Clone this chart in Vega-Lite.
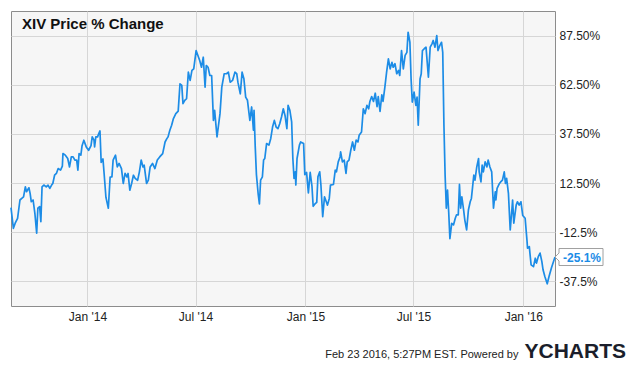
{
  "$schema": "https://vega.github.io/schema/vega-lite/v6.json",
  "width": 544,
  "height": 295,
  "autosize": {"type": "none"},
  "padding": {"left": 11, "top": 11, "right": 80, "bottom": 60},
  "background": "white",
  "title": {"text": "XIV Price % Change", "anchor": "start", "frame": "group", "dx": 11, "offset": -33, "baseline": "alphabetic", "fontSize": 15, "fontWeight": "bold", "color": "#111111", "font": "Liberation Sans"},
  "config": {
    "font": "Liberation Sans",
    "view": {"stroke": "#8c8c8c", "strokeWidth": 1, "fill": "#f6f6f6"},
    "axis": {"gridColor": "#d6d6d6", "gridWidth": 1, "ticks": false, "domain": false, "labelFont": "Liberation Sans", "labelFontSize": 12, "labelColor": "#222222", "titleFont": "Liberation Sans"}
  },
  "data": {"values": [
    {"date": "2013-08-26", "value": 0},
    {"date": "2013-08-30", "value": -10.5},
    {"date": "2013-09-02", "value": -7.9},
    {"date": "2013-09-06", "value": -5.4},
    {"date": "2013-09-10", "value": 3.9},
    {"date": "2013-09-13", "value": 4.7},
    {"date": "2013-09-16", "value": 5.5},
    {"date": "2013-09-19", "value": 10.6},
    {"date": "2013-09-21", "value": 8.1},
    {"date": "2013-09-25", "value": 10.1},
    {"date": "2013-09-27", "value": 7.3},
    {"date": "2013-09-29", "value": 3.0},
    {"date": "2013-10-02", "value": 3.9},
    {"date": "2013-10-05", "value": -2.9},
    {"date": "2013-10-08", "value": -13.0},
    {"date": "2013-10-10", "value": -0.3},
    {"date": "2013-10-13", "value": 0.5},
    {"date": "2013-10-15", "value": -7.1},
    {"date": "2013-10-17", "value": 10.6},
    {"date": "2013-10-20", "value": 11.5},
    {"date": "2013-10-24", "value": 10.6},
    {"date": "2013-10-27", "value": 11.5},
    {"date": "2013-10-30", "value": 9.8},
    {"date": "2013-11-02", "value": 11.5},
    {"date": "2013-11-04", "value": 12.3},
    {"date": "2013-11-07", "value": 16.5},
    {"date": "2013-11-10", "value": 17.4},
    {"date": "2013-11-13", "value": 19.9},
    {"date": "2013-11-17", "value": 19.1},
    {"date": "2013-11-20", "value": 21.1},
    {"date": "2013-11-21", "value": 27.5},
    {"date": "2013-11-25", "value": 26.7},
    {"date": "2013-11-29", "value": 25.0},
    {"date": "2013-12-02", "value": 20.7},
    {"date": "2013-12-05", "value": 25.8},
    {"date": "2013-12-08", "value": 25.8},
    {"date": "2013-12-11", "value": 24.2},
    {"date": "2013-12-14", "value": 24.2},
    {"date": "2013-12-16", "value": 19.1},
    {"date": "2013-12-18", "value": 27.5},
    {"date": "2013-12-21", "value": 26.7},
    {"date": "2013-12-23", "value": 31.5},
    {"date": "2013-12-26", "value": 34.3},
    {"date": "2013-12-30", "value": 30.9},
    {"date": "2014-01-03", "value": 29.2},
    {"date": "2014-01-07", "value": 31.5},
    {"date": "2014-01-09", "value": 36.0},
    {"date": "2014-01-12", "value": 34.3},
    {"date": "2014-01-13", "value": 30.9},
    {"date": "2014-01-15", "value": 36.0},
    {"date": "2014-01-18", "value": 36.0},
    {"date": "2014-01-20", "value": 37.7},
    {"date": "2014-01-22", "value": 39.0},
    {"date": "2014-01-24", "value": 23.0},
    {"date": "2014-01-27", "value": 24.8},
    {"date": "2014-01-29", "value": 17.1},
    {"date": "2014-02-01", "value": 5.2},
    {"date": "2014-02-05", "value": -0.3},
    {"date": "2014-02-08", "value": 15.6},
    {"date": "2014-02-11", "value": 15.6},
    {"date": "2014-02-13", "value": 24.2},
    {"date": "2014-02-17", "value": 26.7},
    {"date": "2014-02-20", "value": 20.7},
    {"date": "2014-02-23", "value": 22.5},
    {"date": "2014-02-27", "value": 19.9},
    {"date": "2014-03-02", "value": 12.3},
    {"date": "2014-03-05", "value": 17.4},
    {"date": "2014-03-08", "value": 15.6},
    {"date": "2014-03-10", "value": 17.4},
    {"date": "2014-03-13", "value": 8.9},
    {"date": "2014-03-16", "value": 12.3},
    {"date": "2014-03-19", "value": 16.5},
    {"date": "2014-03-22", "value": 14.9},
    {"date": "2014-03-26", "value": 13.9},
    {"date": "2014-03-29", "value": 18.2},
    {"date": "2014-04-01", "value": 24.2},
    {"date": "2014-04-04", "value": 20.7},
    {"date": "2014-04-06", "value": 21.6},
    {"date": "2014-04-10", "value": 12.3},
    {"date": "2014-04-13", "value": 14.0},
    {"date": "2014-04-16", "value": 20.7},
    {"date": "2014-04-20", "value": 22.5},
    {"date": "2014-04-24", "value": 19.9},
    {"date": "2014-04-28", "value": 24.2},
    {"date": "2014-05-02", "value": 25.8},
    {"date": "2014-05-07", "value": 27.5},
    {"date": "2014-05-11", "value": 33.4},
    {"date": "2014-05-14", "value": 35.1},
    {"date": "2014-05-16", "value": 36.0},
    {"date": "2014-05-19", "value": 39.4},
    {"date": "2014-05-22", "value": 41.9},
    {"date": "2014-05-25", "value": 45.3},
    {"date": "2014-05-29", "value": 47.8},
    {"date": "2014-06-02", "value": 49.1},
    {"date": "2014-06-05", "value": 63.0},
    {"date": "2014-06-08", "value": 62.2},
    {"date": "2014-06-10", "value": 52.9},
    {"date": "2014-06-13", "value": 54.6},
    {"date": "2014-06-16", "value": 55.4},
    {"date": "2014-06-19", "value": 68.9},
    {"date": "2014-06-22", "value": 64.7},
    {"date": "2014-06-25", "value": 69.8},
    {"date": "2014-06-28", "value": 70.6},
    {"date": "2014-07-02", "value": 79.9},
    {"date": "2014-07-05", "value": 77.4},
    {"date": "2014-07-08", "value": 74.8},
    {"date": "2014-07-11", "value": 71.4},
    {"date": "2014-07-14", "value": 76.5},
    {"date": "2014-07-17", "value": 61.3},
    {"date": "2014-07-19", "value": 72.3},
    {"date": "2014-07-22", "value": 71.4},
    {"date": "2014-07-25", "value": 67.2},
    {"date": "2014-07-28", "value": 67.2},
    {"date": "2014-07-31", "value": 44.4},
    {"date": "2014-08-02", "value": 49.5},
    {"date": "2014-08-06", "value": 36.0},
    {"date": "2014-08-11", "value": 47.8},
    {"date": "2014-08-14", "value": 61.3},
    {"date": "2014-08-18", "value": 68.1},
    {"date": "2014-08-22", "value": 68.1},
    {"date": "2014-08-25", "value": 68.9},
    {"date": "2014-08-28", "value": 63.8},
    {"date": "2014-09-01", "value": 64.7},
    {"date": "2014-09-05", "value": 68.9},
    {"date": "2014-09-08", "value": 68.1},
    {"date": "2014-09-10", "value": 63.8},
    {"date": "2014-09-14", "value": 57.9},
    {"date": "2014-09-17", "value": 68.9},
    {"date": "2014-09-20", "value": 65.6},
    {"date": "2014-09-23", "value": 56.2},
    {"date": "2014-09-26", "value": 54.6},
    {"date": "2014-09-28", "value": 49.5},
    {"date": "2014-09-30", "value": 44.4},
    {"date": "2014-10-03", "value": 51.2},
    {"date": "2014-10-06", "value": 39.4},
    {"date": "2014-10-07", "value": 49.5},
    {"date": "2014-10-09", "value": 30.9},
    {"date": "2014-10-11", "value": 16.8},
    {"date": "2014-10-14", "value": 6.7},
    {"date": "2014-10-16", "value": 1.9},
    {"date": "2014-10-18", "value": 14.0},
    {"date": "2014-10-21", "value": 15.7},
    {"date": "2014-10-23", "value": 24.2},
    {"date": "2014-10-25", "value": 25.0},
    {"date": "2014-10-28", "value": 32.6},
    {"date": "2014-11-01", "value": 31.8},
    {"date": "2014-11-04", "value": 35.2},
    {"date": "2014-11-07", "value": 41.0},
    {"date": "2014-11-10", "value": 44.4},
    {"date": "2014-11-13", "value": 41.0},
    {"date": "2014-11-16", "value": 40.2},
    {"date": "2014-11-19", "value": 42.7},
    {"date": "2014-11-22", "value": 46.1},
    {"date": "2014-11-25", "value": 50.3},
    {"date": "2014-11-28", "value": 46.7},
    {"date": "2014-12-01", "value": 40.2},
    {"date": "2014-12-03", "value": 52.0},
    {"date": "2014-12-06", "value": 49.5},
    {"date": "2014-12-09", "value": 43.6},
    {"date": "2014-12-11", "value": 25.0},
    {"date": "2014-12-13", "value": 14.9},
    {"date": "2014-12-15", "value": 18.2},
    {"date": "2014-12-16", "value": 11.5},
    {"date": "2014-12-18", "value": 25.0},
    {"date": "2014-12-22", "value": 31.8},
    {"date": "2014-12-24", "value": 33.4},
    {"date": "2014-12-29", "value": 32.6},
    {"date": "2014-12-31", "value": 16.8},
    {"date": "2015-01-03", "value": 17.9},
    {"date": "2015-01-06", "value": 7.5},
    {"date": "2015-01-09", "value": 17.9},
    {"date": "2015-01-12", "value": 10.9},
    {"date": "2015-01-14", "value": 0.7},
    {"date": "2015-01-17", "value": 1.9},
    {"date": "2015-01-20", "value": 2.7},
    {"date": "2015-01-22", "value": 15.7},
    {"date": "2015-01-25", "value": 18.2},
    {"date": "2015-01-27", "value": 11.5},
    {"date": "2015-01-30", "value": -4.6},
    {"date": "2015-02-02", "value": 5.5},
    {"date": "2015-02-05", "value": 3.0},
    {"date": "2015-02-07", "value": 1.3},
    {"date": "2015-02-10", "value": 4.7},
    {"date": "2015-02-12", "value": 11.5},
    {"date": "2015-02-17", "value": 11.8},
    {"date": "2015-02-20", "value": 19.1},
    {"date": "2015-02-22", "value": 18.2},
    {"date": "2015-02-25", "value": 23.3},
    {"date": "2015-02-28", "value": 25.8},
    {"date": "2015-03-01", "value": 28.4},
    {"date": "2015-03-04", "value": 23.3},
    {"date": "2015-03-07", "value": 24.2},
    {"date": "2015-03-10", "value": 17.4},
    {"date": "2015-03-12", "value": 23.3},
    {"date": "2015-03-15", "value": 24.2},
    {"date": "2015-03-18", "value": 29.2},
    {"date": "2015-03-21", "value": 33.4},
    {"date": "2015-03-24", "value": 29.2},
    {"date": "2015-03-27", "value": 34.3},
    {"date": "2015-03-30", "value": 33.4},
    {"date": "2015-04-01", "value": 36.8},
    {"date": "2015-04-05", "value": 38.5},
    {"date": "2015-04-08", "value": 50.3},
    {"date": "2015-04-11", "value": 47.8},
    {"date": "2015-04-14", "value": 52.0},
    {"date": "2015-04-17", "value": 50.3},
    {"date": "2015-04-19", "value": 54.0},
    {"date": "2015-04-22", "value": 56.5},
    {"date": "2015-04-25", "value": 54.0},
    {"date": "2015-04-28", "value": 58.2},
    {"date": "2015-05-01", "value": 51.4},
    {"date": "2015-05-03", "value": 56.5},
    {"date": "2015-05-06", "value": 48.9},
    {"date": "2015-05-09", "value": 57.4},
    {"date": "2015-05-11", "value": 54.0},
    {"date": "2015-05-14", "value": 61.0},
    {"date": "2015-05-17", "value": 68.9},
    {"date": "2015-05-20", "value": 75.7},
    {"date": "2015-05-23", "value": 70.6},
    {"date": "2015-05-26", "value": 73.9},
    {"date": "2015-05-28", "value": 71.4},
    {"date": "2015-05-31", "value": 73.2},
    {"date": "2015-06-03", "value": 68.1},
    {"date": "2015-06-06", "value": 69.8},
    {"date": "2015-06-08", "value": 67.2},
    {"date": "2015-06-11", "value": 79.9},
    {"date": "2015-06-14", "value": 70.6},
    {"date": "2015-06-17", "value": 77.4},
    {"date": "2015-06-20", "value": 79.0},
    {"date": "2015-06-22", "value": 89.2},
    {"date": "2015-06-25", "value": 84.1},
    {"date": "2015-06-27", "value": 65.5},
    {"date": "2015-06-29", "value": 53.7},
    {"date": "2015-07-02", "value": 58.8},
    {"date": "2015-07-05", "value": 52.0},
    {"date": "2015-07-07", "value": 56.2},
    {"date": "2015-07-09", "value": 41.9},
    {"date": "2015-07-12", "value": 65.5},
    {"date": "2015-07-14", "value": 68.1},
    {"date": "2015-07-16", "value": 79.9},
    {"date": "2015-07-19", "value": 80.8},
    {"date": "2015-07-22", "value": 81.6},
    {"date": "2015-07-26", "value": 66.4},
    {"date": "2015-07-29", "value": 81.6},
    {"date": "2015-08-01", "value": 83.3},
    {"date": "2015-08-03", "value": 85.0},
    {"date": "2015-08-06", "value": 81.6},
    {"date": "2015-08-09", "value": 87.5},
    {"date": "2015-08-11", "value": 79.9},
    {"date": "2015-08-14", "value": 82.4},
    {"date": "2015-08-17", "value": 84.1},
    {"date": "2015-08-19", "value": 79.0},
    {"date": "2015-08-21", "value": 41.9},
    {"date": "2015-08-23", "value": 16.3},
    {"date": "2015-08-25", "value": -0.3},
    {"date": "2015-08-27", "value": 8.9},
    {"date": "2015-08-29", "value": -2.3},
    {"date": "2015-08-31", "value": -15.8},
    {"date": "2015-09-03", "value": -8.0},
    {"date": "2015-09-06", "value": -8.8},
    {"date": "2015-09-09", "value": -5.4},
    {"date": "2015-09-11", "value": -3.7},
    {"date": "2015-09-14", "value": -3.7},
    {"date": "2015-09-16", "value": 11.8},
    {"date": "2015-09-18", "value": -0.3},
    {"date": "2015-09-20", "value": 5.5},
    {"date": "2015-09-23", "value": -1.2},
    {"date": "2015-09-25", "value": -6.3},
    {"date": "2015-09-28", "value": -11.3},
    {"date": "2015-10-01", "value": -1.2},
    {"date": "2015-10-04", "value": 3.0},
    {"date": "2015-10-06", "value": 4.7},
    {"date": "2015-10-08", "value": 10.6},
    {"date": "2015-10-10", "value": 16.5},
    {"date": "2015-10-12", "value": 14.0},
    {"date": "2015-10-15", "value": 20.7},
    {"date": "2015-10-18", "value": 25.0},
    {"date": "2015-10-19", "value": 18.2},
    {"date": "2015-10-22", "value": 13.1},
    {"date": "2015-10-24", "value": 21.6},
    {"date": "2015-10-26", "value": 18.2},
    {"date": "2015-10-29", "value": 23.3},
    {"date": "2015-11-01", "value": 20.7},
    {"date": "2015-11-03", "value": 24.2},
    {"date": "2015-11-06", "value": 20.7},
    {"date": "2015-11-09", "value": 18.2},
    {"date": "2015-11-12", "value": -0.3},
    {"date": "2015-11-15", "value": 8.1},
    {"date": "2015-11-16", "value": 3.9},
    {"date": "2015-11-18", "value": 9.8},
    {"date": "2015-11-22", "value": 12.3},
    {"date": "2015-11-24", "value": 13.1},
    {"date": "2015-11-27", "value": 14.0},
    {"date": "2015-11-30", "value": 18.2},
    {"date": "2015-12-02", "value": 12.3},
    {"date": "2015-12-04", "value": 14.9},
    {"date": "2015-12-07", "value": 7.3},
    {"date": "2015-12-10", "value": -11.3},
    {"date": "2015-12-13", "value": -0.3},
    {"date": "2015-12-14", "value": 3.9},
    {"date": "2015-12-16", "value": -7.9},
    {"date": "2015-12-20", "value": 1.3},
    {"date": "2015-12-22", "value": 3.0},
    {"date": "2015-12-25", "value": 1.3},
    {"date": "2015-12-28", "value": 3.0},
    {"date": "2015-12-31", "value": -4.0},
    {"date": "2016-01-04", "value": -5.4},
    {"date": "2016-01-07", "value": -16.4},
    {"date": "2016-01-08", "value": -20.6},
    {"date": "2016-01-11", "value": -19.8},
    {"date": "2016-01-12", "value": -23.1},
    {"date": "2016-01-14", "value": -29.1},
    {"date": "2016-01-18", "value": -30.0},
    {"date": "2016-01-21", "value": -25.7},
    {"date": "2016-01-23", "value": -28.2},
    {"date": "2016-01-26", "value": -24.9},
    {"date": "2016-01-29", "value": -23.1},
    {"date": "2016-02-01", "value": -27.4},
    {"date": "2016-02-03", "value": -31.6},
    {"date": "2016-02-06", "value": -35.0},
    {"date": "2016-02-10", "value": -38.7},
    {"date": "2016-02-13", "value": -35.0},
    {"date": "2016-02-17", "value": -30.7},
    {"date": "2016-02-23", "value": -25.1}
  ]},
  "encoding": {
    "x": {
      "field": "date", "type": "temporal",
      "scale": {"type": "utc", "nice": false, "domain": [{"year": 2013, "month": 8, "date": 26, "utc": true}, {"year": 2016, "month": 2, "date": 23, "utc": true}]},
      "axis": {
        "values": [{"year": 2014, "month": 1, "date": 1, "utc": true}, {"year": 2014, "month": 7, "date": 1, "utc": true}, {"year": 2015, "month": 1, "date": 1, "utc": true}, {"year": 2015, "month": 7, "date": 1, "utc": true}, {"year": 2016, "month": 1, "date": 1, "utc": true}],
        "labelExpr": "utcFormat(datum.value, \"%b '%y\")",
        "labelPadding": 5,
        "grid": true,
        "title": "Feb 23 2016, 5:27PM EST.  Powered by",
        "titleX": 507, "titleY": 51, "titleAlign": "right", "titleAnchor": "end", "titleBaseline": "alphabetic",
        "titleFontSize": 11, "titleFontWeight": "normal", "titleColor": "#222222"
      }
    },
    "y": {
      "field": "value", "type": "quantitative",
      "scale": {"domain": [-50, 100], "nice": false, "zero": false},
      "axis": {
        "orient": "right",
        "values": [87.5, 62.5, 37.5, 12.5, -12.5, -37.5],
        "labelExpr": "datum.value >= 0 ? format(datum.value, '.2f') + '%' : '' + datum.value + '%'",
        "labelPadding": 4,
        "grid": true,
        "title": "YCHARTS",
        "titleAngle": 0, "titleX": -31, "titleY": 346, "titleAlign": "left", "titleBaseline": "alphabetic",
        "titleFontSize": 21, "titleFontWeight": "bold", "titleColor": "#1b1e2b"
      }
    }
  },
  "layer": [
    {
      "data": {"values": [{}]},
      "mark": {"type": "rect", "fill": "white", "opacity": 0.45},
      "encoding": {
        "x": {"datum": {"year": 2013, "month": 8, "date": 26, "utc": true}, "type": "temporal"},
        "x2": {"datum": {"year": 2014, "month": 5, "date": 21, "utc": true}},
        "y": {"datum": 100, "type": "quantitative"},
        "y2": {"datum": 87.5}
      }
    },
    {
      "mark": {"type": "line", "color": "#1c8ce6", "strokeWidth": 1.7, "strokeJoin": "round"}
    },
    {
      "transform": [
        {"joinaggregate": [{"op": "max", "field": "date", "as": "maxd"}]},
        {"filter": "time(datum.date) == time(datum.maxd)"}
      ],
      "mark": {"type": "point", "shape": "M0,0L0.4,-0.4L0.4,-0.85L4.8,-0.85L4.8,0.85L0.4,0.85L0.4,0.4Z", "size": 400, "filled": true, "fill": "white", "stroke": "#a0a0a0", "strokeWidth": 1, "opacity": 1}
    },
    {
      "transform": [
        {"joinaggregate": [{"op": "max", "field": "date", "as": "maxd"}]},
        {"filter": "time(datum.date) == time(datum.maxd)"},
        {"calculate": "'' + datum.value + '%'", "as": "label"}
      ],
      "mark": {"type": "text", "align": "left", "baseline": "middle", "dx": 8, "dy": 1, "fontSize": 12, "fontWeight": "bold", "color": "#1c8ce6"},
      "encoding": {"text": {"field": "label", "type": "nominal"}}
    }
  ]
}
